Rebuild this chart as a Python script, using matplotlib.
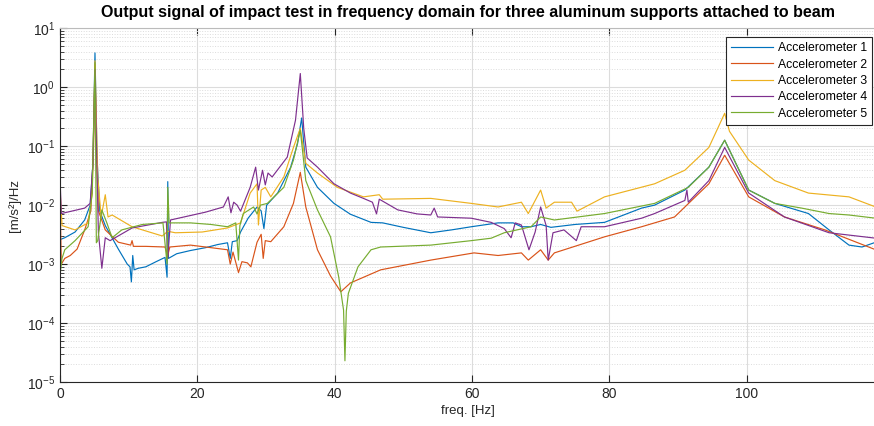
import matplotlib
matplotlib.use("Agg")
import matplotlib.pyplot as plt
from matplotlib.ticker import FixedLocator, NullFormatter

# datos (frecuencia en Hz, amplitud en [m/s^2]/Hz)
f1 = [0, 0.7, 2.2, 3.6, 4.4, 4.8, 5.1, 5.4, 5.8, 6.6, 8.5, 9.8, 10.2, 10.4, 10.6, 10.8, 11.4, 12.5, 14,
      15.3, 15.6, 15.7, 15.8, 17, 19, 21.2, 23, 24.4, 24.8, 25.1, 25.8, 26.3, 27.4, 28.7, 29.3, 29.7, 30.1,
      31.7, 33.6, 34.6, 35.2, 35.8, 37.5, 39.9, 42.3, 45.3, 47, 50, 54, 57, 59.9, 63.8, 66, 67.2, 68.6,
      70, 71.5, 75, 79.3, 84.7, 86.6, 91, 94.5, 96.8, 100.3, 104.1, 109, 112, 114.9, 116.8, 118.8]
a1 = [2.6e-3, 2.8e-3, 3.5e-3, 5.6e-3, 1e-2, 0.05, 3.8, 0.063, 8e-3, 4.5e-3, 1.8e-3, 1e-3, 9e-4, 5e-4,
      1.4e-3, 8e-4, 8.5e-4, 9e-4, 1.1e-3, 1.3e-3, 6e-4, 0.025, 1.25e-3, 1.5e-3, 1.7e-3, 1.9e-3, 2.15e-3,
      2.3e-3, 1.25e-3, 2.4e-3, 2.5e-3, 3.5e-3, 6e-3, 9.3e-3, 8e-3, 4e-3, 1e-2, 0.016, 0.044, 0.11, 0.3,
      0.044, 0.02, 0.0107, 7e-3, 5.1e-3, 5e-3, 4.2e-3, 3.4e-3, 3.8e-3, 4.3e-3, 5e-3, 5e-3, 4.3e-3,
      4.3e-3, 4.7e-3, 4.2e-3, 4.7e-3, 5.1e-3, 8.9e-3, 1e-2, 0.018, 0.044, 0.126, 0.018, 0.0107, 7.2e-3,
      3.8e-3, 2.1e-3, 1.95e-3, 2.35e-3]

f2 = [0, 0.2, 0.7, 1.5, 2.5, 3.6, 4.5, 4.9, 5.1, 5.3, 5.6, 6.6, 8.5, 10.3, 10.5, 10.7, 12.5, 15.3, 15.7,
      16, 19, 22, 24.4, 24.8, 25.2, 26, 26.5, 27.3, 27.8, 28.7, 29.3, 29.6, 29.9, 30.7, 32.6, 34, 35,
      35.8, 37.5, 39.4, 40.9, 42.3, 46.7, 50, 54, 60.3, 63.8, 67.2, 68.2, 70, 71.1, 72, 79.3, 84.7, 89.5,
      94.5, 96.8, 100.3, 105.5, 111.4, 118.8]
a2 = [0.015, 1e-3, 1.25e-3, 1.4e-3, 1.8e-3, 3.8e-3, 8e-3, 0.1, 2.4, 0.1, 8e-3, 3.8e-3, 2.35e-3, 2.1e-3,
      2.5e-3, 2e-3, 2e-3, 1.95e-3, 1.4e-3, 1.95e-3, 2.1e-3, 1.9e-3, 1.75e-3, 1e-3, 1.6e-3, 7.2e-4,
      1.1e-3, 1.05e-3, 9e-4, 2.35e-3, 3.2e-3, 1.25e-3, 2.5e-3, 2.4e-3, 4.3e-3, 0.0107, 0.036, 9.3e-3,
      1.75e-3, 6.3e-4, 3.4e-4, 4.8e-4, 8e-4, 9.5e-4, 1.17e-3, 1.55e-3, 1.4e-3, 1.55e-3, 1.17e-3,
      1.75e-3, 1.17e-3, 1.55e-3, 2.9e-3, 4.3e-3, 6.3e-3, 0.023, 0.07, 0.0138, 6.3e-3, 3.8e-3, 1.75e-3]

f3 = [0, 0.3, 2.2, 4.1, 4.7, 5.1, 5.5, 6.0, 6.6, 7.0, 7.6, 10.5, 14.9, 15.7, 16.8, 20.7, 24.4, 26.3, 27.7,
      28.7, 28.9, 29.3, 29.9, 30.7, 32.6, 34, 35, 35.8, 37.5, 40.4, 42.3, 44.2, 46.5, 47, 54, 59.9, 63.8,
      67.2, 68.2, 70, 70.8, 72, 74.5, 75.3, 79.3, 86.6, 91, 94.5, 96.8, 97.5, 100.3, 104.1, 109, 114.9,
      118.8]
a3 = [0.02, 4.5e-3, 3.8e-3, 5e-3, 0.016, 2.8, 0.03, 6.3e-3, 0.015, 6.3e-3, 6.8e-3, 4.3e-3, 3e-3, 3.6e-3,
      3.4e-3, 3.5e-3, 4.1e-3, 5e-3, 0.016, 0.023, 4.6e-3, 0.018, 0.02, 0.0138, 0.03, 0.095, 0.2, 0.051,
      0.035, 0.02, 0.0166, 0.0138, 0.015, 0.0126, 0.013, 0.0107, 9.3e-3, 0.0112, 7.2e-3, 0.018, 8.9e-3,
      0.0112, 0.0112, 7.9e-3, 0.0138, 0.023, 0.039, 0.095, 0.36, 0.178, 0.058, 0.026, 0.016, 0.0138,
      9.3e-3]

f4 = [0, 0.2, 3.6, 4.4, 4.8, 5.1, 5.4, 5.6, 6.1, 6.6, 7.3, 10.5, 14.9, 15.5, 15.7, 16.1, 21.2, 23.8, 24.5,
      24.9, 25.3, 25.8, 26.3, 27.7, 28.5, 28.9, 29.5, 29.9, 30.3, 30.9, 33.1, 34.3, 35, 35.5, 36, 37.5,
      39.9, 42.3, 44.2, 45.5, 46.1, 46.5, 49.2, 52, 54, 54.5, 55, 59.9, 62.8, 64.7, 65.7, 66.3, 67.2,
      68.3, 69.2, 70, 70.8, 71.1, 71.8, 73.4, 75.2, 75.9, 79.3, 84.7, 86.6, 91, 91.3, 91.5, 94.5, 96.8,
      100.3, 105.5, 112, 118.8]
a4 = [0.03, 7.2e-3, 8.9e-3, 0.0107, 0.05, 2.0, 0.032, 3.4e-3, 8.5e-4, 2.8e-3, 2.5e-3, 4.1e-3, 5.1e-3,
      5.2e-3, 1.25e-3, 5.6e-3, 7.6e-3, 9.3e-3, 0.0138, 7.4e-3, 0.0112, 0.01, 7.9e-3, 0.02, 0.044, 0.018,
      0.039, 0.022, 0.035, 0.03, 0.065, 0.275, 1.7, 0.2, 0.063, 0.044, 0.023, 0.016, 0.013, 0.0112,
      7.1e-3, 0.0126, 8.3e-3, 7.1e-3, 6.8e-3, 8.9e-3, 6.3e-3, 6e-3, 5.1e-3, 4e-3, 2.8e-3, 5e-3, 4.6e-3,
      1.75e-3, 3.5e-3, 9.3e-3, 4.5e-3, 1.17e-3, 3.4e-3, 3.8e-3, 2.5e-3, 4.3e-3, 4.3e-3, 6e-3, 7.2e-3,
      0.012, 0.018, 0.0112, 0.026, 0.095, 0.016, 6.3e-3, 3.4e-3, 2.75e-3]

f5 = [0, 0.3, 0.7, 2.2, 4.1, 4.7, 5.1, 5.3, 5.5, 6.1, 6.8, 7.6, 9, 12, 15, 15.6, 15.7, 15.9, 19, 22, 24.4,
      25.6, 26, 26.2, 26.7, 28.2, 28.7, 29.2, 30.2, 32.6, 34, 35, 35.8, 37.5, 39.4, 40.6, 41.3, 41.5,
      41.7, 42, 43.4, 45.3, 46.7, 54, 59.9, 62.8, 64.7, 68.6, 70, 72, 79.3, 86.6, 91.5, 94.5, 96.8,
      100.3, 104.1, 108, 112, 114.9, 118.8]
a5 = [6.3e-4, 1.25e-3, 1.75e-3, 2.5e-3, 4.3e-3, 0.016, 2.6, 2.3e-3, 2.5e-3, 8.3e-3, 5.1e-3, 2.8e-3,
      3.8e-3, 4.7e-3, 5e-3, 1e-3, 0.02, 5e-3, 5e-3, 4.7e-3, 4.3e-3, 5e-3, 1.17e-3, 4.5e-3, 7.2e-3,
      9.3e-3, 7.1e-3, 0.01, 0.0107, 0.02, 0.058, 0.186, 0.026, 8.3e-3, 2.9e-3, 6e-4, 1.66e-4, 2.3e-5,
      1.6e-4, 3.2e-4, 9e-4, 1.75e-3, 1.95e-3, 2.1e-3, 2.5e-3, 2.75e-3, 3.4e-3, 4.3e-3, 6.3e-3, 5.6e-3,
      7.2e-3, 0.0107, 0.02, 0.044, 0.126, 0.018, 0.0107, 8.9e-3, 7.2e-3, 6.8e-3, 6e-3]

nombres = ['Accelerometer 1', 'Accelerometer 2', 'Accelerometer 3', 'Accelerometer 4', 'Accelerometer 5']
colores = ['#0072BD', '#D95319', '#EDB120', '#7E2F8E', '#77AC30']
xticks = [0, 20, 40, 60, 80, 100]
yticks = [1e-5, 1e-4, 1e-3, 1e-2, 1e-1, 1e0, 1e1]

plt.rcParams['font.family'] = ['Liberation Sans', 'DejaVu Sans']
fig = plt.figure(figsize=(8.74, 4.26), dpi=100)
ax = fig.add_axes([0.0686, 0.103, 0.9314 + 0.002, 0.831])

for f, a, n, c in zip([f1, f2, f3, f4, f5], [a1, a2, a3, a4, a5], nombres, colores):
    ax.plot(f, a, color=c, linewidth=0.85, label=n)

ax.set_yscale('log')
ax.set_xlim(0, 118.8)
ax.set_ylim(1e-5, 10)
ax.set_xticks(xticks)
ax.set_yticks(yticks)
# ticks menores de la escala log (2..9 de cada decada)
menores = [m * 10.0 ** e for e in range(-5, 1) for m in range(2, 10)]
ax.yaxis.set_minor_locator(FixedLocator(menores))
ax.yaxis.set_minor_formatter(NullFormatter())

ax.grid(True, which='major', color='#dcdcdc', linewidth=0.8)
ax.grid(True, which='minor', axis='y', color='#dcdcdc', linestyle=':', linewidth=0.7)
ax.set_axisbelow(True)

ax.tick_params(which='both', direction='in', top=True, colors='#262626', labelsize=10)
ax.tick_params(which='major', length=5)
ax.tick_params(which='minor', length=3)
for s in ['left', 'bottom']:
    ax.spines[s].set_color('#262626')
ax.spines['top'].set_color('#bbbbbb')
ax.spines['right'].set_visible(False)

ax.set_title('Output signal of impact test in frequency domain for three aluminum supports attached to beam',
             fontsize=11.5, fontweight='bold', pad=8)
ax.set_xlabel('freq. [Hz]', fontsize=9.5, color='#262626', labelpad=3)
ax.set_ylabel('[m/s²]/Hz', fontsize=9.5, color='#262626')

leg = ax.legend(loc='upper right', bbox_to_anchor=(0.996, 0.975), borderaxespad=0, fontsize=8.8,
                fancybox=False, framealpha=1, edgecolor='#262626', handlelength=3.4,
                handletextpad=0.4, labelspacing=0.35, borderpad=0.45)
leg.get_frame().set_linewidth(0.8)

plt.savefig('out.png', dpi=100)
